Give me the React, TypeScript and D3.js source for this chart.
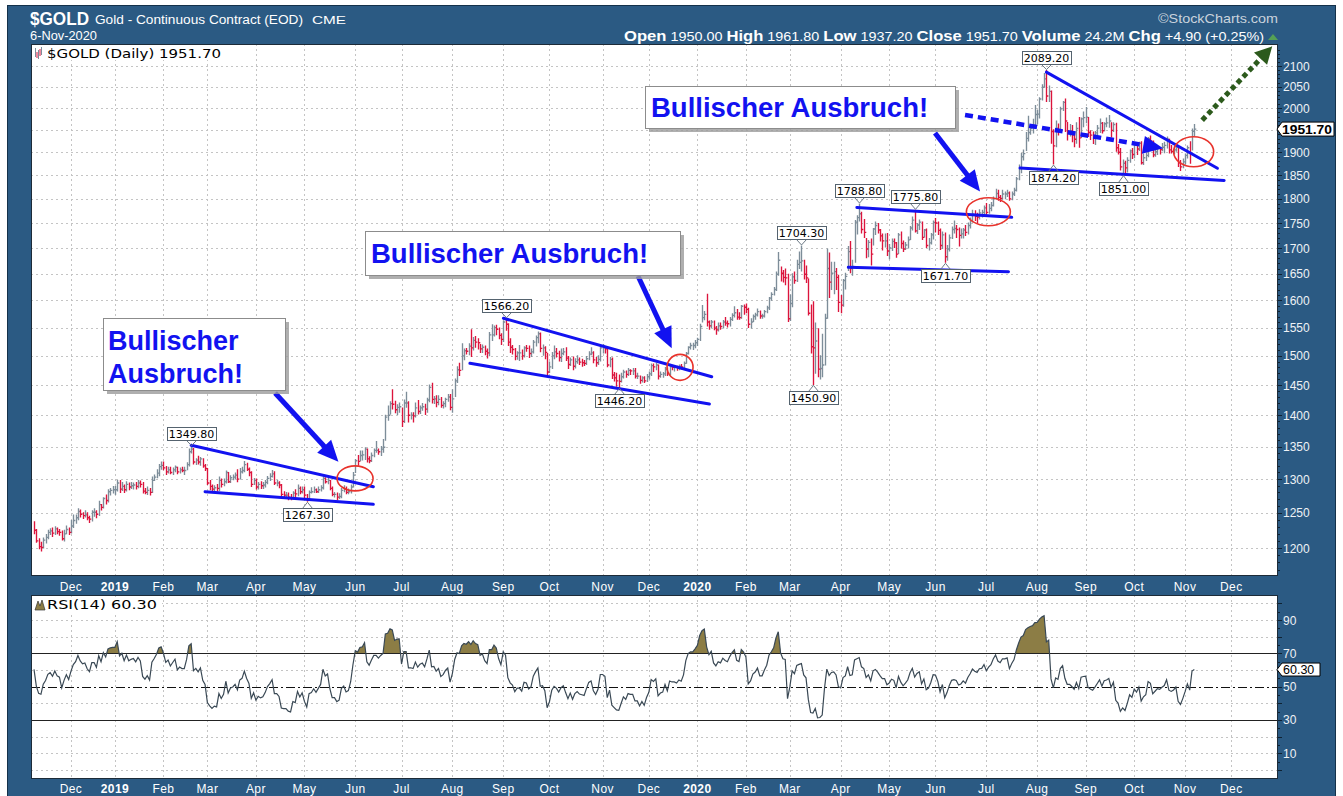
import React, { useEffect } from 'react';
import * as d3 from 'd3';

// ---------------- DATA ----------------
const holidays = [
  '2018-11-22', '2018-12-05', '2018-12-25', '2019-01-01', '2019-01-21', '2019-02-18', '2019-04-19',
  '2019-05-27', '2019-07-04', '2019-09-02', '2019-11-28', '2019-12-25', '2020-01-01', '2020-01-20',
  '2020-02-17', '2020-04-10', '2020-05-25', '2020-07-03', '2020-09-07', '2020-11-26', '2020-12-25',
];
const firstDay = '2018-11-08';
const lastAxisDay = '2020-12-31';
const monthNames = ['Jan', 'Feb', 'Mar', 'Apr', 'May', 'Jun', 'Jul', 'Aug', 'Sep', 'Oct', 'Nov', 'Dec'];

// closes before the first visible bar (RSI warm-up only)
const warmupCloses = [1194, 1227, 1222, 1232, 1230, 1225, 1227, 1229, 1226, 1236, 1234, 1234, 1236, 1228, 1226, 1215, 1235, 1234, 1233, 1230, 1228];

const closes = [
  // Nov 2018
  1225, 1210, 1202, 1201, 1211, 1215, 1222, 1224, 1221, 1227, 1223, 1222, 1213, 1220, 1226, 1222,
  // Dec 2018
  1231, 1239, 1243, 1252, 1248, 1246, 1247, 1243, 1241, 1251, 1251, 1248, 1262, 1258, 1271, 1268, 1281, 1283, 1284,
  // Jan 2019
  1284, 1294, 1285, 1289, 1284, 1292, 1288, 1290, 1291, 1289, 1294, 1292, 1282, 1280, 1283, 1280, 1298, 1303, 1309, 1319, 1321,
  // Feb 2019
  1317, 1311, 1314, 1310, 1314, 1318, 1311, 1314, 1313, 1313, 1322, 1342, 1346, 1326, 1329, 1326, 1331, 1320, 1316,
  // Mar 2019
  1294, 1289, 1285, 1287, 1286, 1298, 1292, 1296, 1310, 1296, 1302, 1303, 1306, 1300, 1311, 1313, 1322, 1315, 1310, 1292, 1298,
  // Apr 2019
  1288, 1292, 1290, 1291, 1295, 1301, 1304, 1308, 1294, 1294, 1291, 1277, 1276, 1276, 1273, 1272, 1279, 1278, 1286, 1281, 1284,
  // May 2019
  1276, 1270, 1280, 1281, 1284, 1281, 1284, 1287, 1301, 1296, 1298, 1286, 1277, 1277, 1273, 1274, 1283, 1285, 1280, 1281, 1288, 1306,
  // Jun 2019
  1328, 1327, 1336, 1337, 1346, 1331, 1328, 1336, 1344, 1344, 1342, 1346, 1349, 1397, 1400, 1419, 1418, 1409, 1413, 1414,
  // Jul 2019
  1390, 1420, 1420, 1400, 1400, 1399, 1412, 1406, 1412, 1414, 1410, 1425, 1446, 1426, 1427, 1421, 1426, 1416, 1419, 1426, 1430, 1413,
  // Aug 2019
  1427, 1457, 1476, 1475, 1500, 1509, 1508, 1517, 1514, 1527, 1524, 1523, 1512, 1515, 1508, 1505, 1537, 1537, 1550, 1547, 1536, 1529,
  // Sep 2019
  1560, 1556, 1524, 1515, 1511, 1499, 1505, 1505, 1500, 1514, 1513, 1504, 1507, 1524, 1532, 1539, 1513, 1514, 1506, 1472,
  // Oct 2019
  1481, 1500, 1507, 1504, 1497, 1504, 1507, 1496, 1485, 1493, 1482, 1490, 1493, 1489, 1488, 1487, 1495, 1503, 1505, 1493, 1488, 1494, 1514,
  // Nov 2019
  1514, 1512, 1484, 1494, 1467, 1462, 1457, 1456, 1464, 1472, 1468, 1475, 1474, 1474, 1465, 1465, 1458, 1462, 1457, 1464,
  // Dec 2019
  1469, 1483, 1481, 1484, 1465, 1468, 1469, 1477, 1470, 1481, 1480, 1480, 1479, 1482, 1481, 1487, 1504, 1515, 1518, 1518, 1523,
  // Jan 2020
  1529, 1552, 1568, 1574, 1560, 1553, 1560, 1549, 1546, 1553, 1552, 1560, 1558, 1557, 1565, 1572, 1577, 1569, 1568, 1589, 1587,
  // Feb 2020
  1583, 1556, 1560, 1570, 1573, 1579, 1571, 1571, 1579, 1586, 1604, 1611, 1620, 1649, 1676, 1651, 1643, 1642, 1566,
  // Mar 2020
  1594, 1644, 1637, 1668, 1672, 1675, 1649, 1642, 1576, 1516, 1514, 1526, 1477, 1478, 1484, 1567, 1660, 1634, 1651, 1654, 1643, 1596,
  // Apr 2020
  1591, 1637, 1645, 1693, 1660, 1664, 1752, 1761, 1769, 1737, 1731, 1698, 1711, 1688, 1738, 1745, 1736, 1724, 1714, 1714, 1694,
  // May 2020
  1700, 1713, 1710, 1688, 1726, 1709, 1698, 1706, 1716, 1740, 1756, 1734, 1746, 1752, 1721, 1736, 1705, 1710, 1726, 1751,
  // Jun 2020
  1750, 1735, 1705, 1726, 1683, 1698, 1720, 1737, 1739, 1737, 1725, 1728, 1736, 1731, 1745, 1755, 1768, 1764, 1762, 1771, 1772, 1781,
  // Jul 2020
  1772, 1780, 1786, 1800, 1811, 1803, 1801, 1810, 1810, 1812, 1800, 1810, 1818, 1842, 1865, 1890, 1897, 1931, 1944, 1953, 1960, 1985,
  // Aug 2020
  1986, 2021, 2049, 2069, 2028, 2039, 1946, 1914, 1954, 1949, 1998, 2013, 1970, 1947, 1947, 1939, 1929, 1953, 1932, 1975, 1978,
  // Sep 2020
  1979, 1944, 1938, 1934, 1943, 1954, 1965, 1948, 1964, 1966, 1970, 1949, 1962, 1910, 1900, 1868, 1876, 1866, 1882, 1903, 1895,
  // Oct 2020
  1916, 1907, 1920, 1877, 1888, 1893, 1930, 1925, 1894, 1901, 1908, 1906, 1911, 1915, 1929, 1905, 1902, 1905, 1911, 1877, 1868, 1879,
  // Nov 2020
  1893, 1910, 1896, 1947, 1951.7,
];

const highs = [
  1237, 1226, 1213, 1208, 1214, 1219, 1225, 1227, 1228, 1230, 1228, 1226, 1224, 1225, 1231, 1228,
  1239, 1247, 1247, 1256, 1254, 1250, 1253, 1250, 1245, 1253, 1256, 1253, 1267, 1262, 1272, 1276, 1284, 1286, 1289,
  1289, 1298, 1298, 1295, 1291, 1296, 1294, 1295, 1294, 1295, 1298, 1297, 1295, 1286, 1288, 1286, 1303, 1306, 1314, 1322, 1326,
  1326, 1319, 1318, 1318, 1317, 1320, 1318, 1317, 1318, 1318, 1325, 1346, 1350, 1347, 1331, 1335, 1333, 1331, 1322,
  1316, 1298, 1291, 1290, 1292, 1303, 1300, 1300, 1312, 1310, 1305, 1306, 1309, 1314, 1316, 1318, 1327, 1324, 1317, 1311, 1301,
  1300, 1295, 1296, 1295, 1298, 1304, 1308, 1313, 1311, 1298, 1296, 1292, 1281, 1280, 1279, 1277, 1281, 1284, 1291, 1288, 1288,
  1288, 1277, 1282, 1287, 1288, 1285, 1288, 1290, 1303, 1302, 1301, 1298, 1288, 1280, 1279, 1278, 1286, 1290, 1288, 1285, 1291, 1310,
  1330, 1336, 1343, 1343, 1348, 1346, 1334, 1340, 1346, 1358, 1346, 1350, 1361, 1400, 1415, 1422, 1442, 1423, 1417, 1420,
  1412, 1425, 1438, 1422, 1404, 1404, 1420, 1424, 1415, 1419, 1418, 1428, 1450, 1453, 1431, 1432, 1432, 1429, 1422, 1428, 1434, 1434,
  1442, 1460, 1481, 1487, 1521, 1512, 1513, 1521, 1546, 1532, 1534, 1530, 1520, 1519, 1517, 1512, 1541, 1555, 1553, 1554, 1549, 1539,
  1562, 1566, 1557, 1530, 1518, 1513, 1507, 1518, 1510, 1516, 1518, 1517, 1512, 1527, 1535, 1542, 1540, 1519, 1516, 1504,
  1489, 1506, 1517, 1513, 1508, 1512, 1513, 1514, 1499, 1496, 1498, 1495, 1500, 1496, 1494, 1492, 1499, 1507, 1514, 1507, 1497, 1500, 1516,
  1520, 1516, 1513, 1497, 1496, 1471, 1470, 1467, 1470, 1475, 1474, 1478, 1476, 1478, 1478, 1470, 1465, 1464, 1464, 1468,
  1472, 1486, 1486, 1487, 1484, 1472, 1471, 1480, 1479, 1484, 1482, 1483, 1482, 1484, 1485, 1489, 1506, 1516, 1522, 1522, 1527,
  1531, 1556, 1590, 1579, 1611, 1562, 1563, 1562, 1552, 1558, 1558, 1563, 1568, 1562, 1568, 1575, 1588, 1583, 1577, 1590, 1591,
  1593, 1585, 1566, 1573, 1576, 1584, 1580, 1574, 1581, 1589, 1605, 1614, 1624, 1653, 1691, 1663, 1656, 1659, 1649,
  1610, 1650, 1653, 1676, 1692, 1704, 1676, 1665, 1640, 1591, 1597, 1558, 1548, 1500, 1538, 1574, 1698, 1690, 1672, 1672, 1660, 1647,
  1609, 1639, 1651, 1703, 1713, 1676, 1755, 1765, 1789, 1772, 1757, 1719, 1715, 1718, 1739, 1752, 1749, 1737, 1728, 1728, 1729,
  1707, 1718, 1718, 1711, 1729, 1732, 1714, 1711, 1722, 1743, 1762, 1776, 1749, 1756, 1752, 1737, 1738, 1719, 1729, 1754,
  1759, 1752, 1738, 1732, 1730, 1705, 1726, 1742, 1754, 1745, 1740, 1738, 1739, 1745, 1750, 1760, 1776, 1775, 1770, 1777, 1776, 1785,
  1790, 1788, 1792, 1804, 1820, 1818, 1807, 1818, 1814, 1818, 1814, 1814, 1822, 1845, 1872, 1897, 1905, 1944, 1981, 1960, 1974, 2006,
  1994, 2024, 2055, 2082, 2089, 2052, 2040, 1950, 1970, 1963, 2002, 2015, 2021, 1967, 1962, 1960, 1944, 1966, 1978, 1977, 1991,
  2001, 1978, 1948, 1945, 1946, 1960, 1975, 1967, 1966, 1977, 1983, 1966, 1966, 1965, 1917, 1908, 1883, 1880, 1888, 1905, 1908,
  1918, 1921, 1922, 1923, 1896, 1898, 1933, 1936, 1925, 1909, 1912, 1910, 1919, 1922, 1934, 1929, 1915, 1913, 1915, 1910, 1882, 1885,
  1896, 1914, 1923, 1952, 1961.8,
];

const lows = [
  1220, 1208, 1199, 1196, 1200, 1207, 1213, 1219, 1216, 1219, 1220, 1218, 1211, 1210, 1220, 1219,
  1221, 1229, 1235, 1240, 1244, 1242, 1244, 1240, 1236, 1238, 1245, 1243, 1246, 1254, 1257, 1263, 1266, 1276, 1279,
  1277, 1282, 1280, 1283, 1280, 1282, 1284, 1286, 1285, 1285, 1287, 1288, 1279, 1278, 1277, 1276, 1280, 1298, 1302, 1305, 1315,
  1314, 1307, 1309, 1308, 1307, 1311, 1308, 1309, 1311, 1307, 1314, 1320, 1340, 1323, 1322, 1323, 1321, 1318, 1313,
  1292, 1284, 1281, 1283, 1282, 1283, 1288, 1290, 1294, 1295, 1295, 1299, 1300, 1296, 1300, 1309, 1311, 1313, 1305, 1289, 1292,
  1285, 1285, 1286, 1286, 1288, 1293, 1298, 1303, 1292, 1290, 1287, 1275, 1272, 1271, 1269, 1269, 1270, 1273, 1275, 1278, 1279,
  1271, 1267, 1268, 1279, 1280, 1280, 1280, 1282, 1285, 1294, 1293, 1284, 1275, 1273, 1269, 1271, 1272, 1281, 1278, 1278, 1279, 1288,
  1310, 1321, 1328, 1329, 1330, 1326, 1325, 1327, 1334, 1341, 1338, 1336, 1341, 1360, 1392, 1402, 1410, 1404, 1401, 1405,
  1382, 1388, 1413, 1389, 1394, 1389, 1397, 1402, 1403, 1408, 1401, 1405, 1422, 1420, 1419, 1414, 1417, 1413, 1412, 1414, 1423, 1409,
  1405, 1431, 1454, 1466, 1476, 1493, 1503, 1502, 1499, 1510, 1515, 1512, 1506, 1506, 1502, 1496, 1500, 1527, 1535, 1537, 1530, 1520,
  1525, 1545, 1518, 1506, 1503, 1493, 1494, 1492, 1494, 1498, 1508, 1497, 1499, 1505, 1517, 1523, 1507, 1501, 1495, 1468,
  1471, 1478, 1495, 1498, 1491, 1490, 1502, 1492, 1478, 1483, 1476, 1479, 1487, 1485, 1482, 1483, 1485, 1493, 1502, 1488, 1482, 1485, 1491,
  1505, 1505, 1481, 1481, 1461, 1457, 1448, 1446, 1455, 1462, 1463, 1466, 1468, 1468, 1462, 1461, 1453, 1455, 1454, 1456,
  1460, 1466, 1473, 1476, 1460, 1463, 1463, 1466, 1466, 1467, 1476, 1474, 1475, 1476, 1477, 1479, 1487, 1503, 1512, 1511, 1514,
  1518, 1527, 1560, 1564, 1553, 1547, 1550, 1546, 1538, 1544, 1547, 1549, 1554, 1551, 1553, 1563, 1569, 1565, 1565, 1567, 1574,
  1577, 1550, 1549, 1561, 1565, 1571, 1567, 1567, 1569, 1577, 1583, 1600, 1610, 1618, 1647, 1636, 1634, 1629, 1561,
  1563, 1588, 1632, 1635, 1660, 1655, 1640, 1633, 1573, 1505, 1451, 1470, 1464, 1460, 1464, 1484, 1567, 1605, 1620, 1612, 1620, 1579,
  1577, 1589, 1621, 1656, 1652, 1647, 1672, 1728, 1754, 1730, 1721, 1681, 1683, 1667, 1706, 1727, 1730, 1714, 1696, 1702, 1685,
  1679, 1695, 1701, 1682, 1689, 1700, 1693, 1697, 1700, 1717, 1736, 1732, 1729, 1737, 1717, 1722, 1701, 1696, 1708, 1718,
  1732, 1727, 1697, 1699, 1672, 1676, 1694, 1719, 1730, 1721, 1704, 1720, 1720, 1725, 1728, 1740, 1752, 1755, 1750, 1758, 1762, 1768,
  1765, 1770, 1775, 1785, 1800, 1797, 1794, 1799, 1800, 1805, 1797, 1798, 1807, 1816, 1840, 1855, 1883, 1904, 1925, 1940, 1943, 1961,
  1964, 1977, 2019, 2049, 2015, 2015, 1920, 1874, 1912, 1938, 1950, 1994, 1946, 1927, 1936, 1923, 1912, 1920, 1911, 1933, 1957,
  1966, 1935, 1928, 1919, 1917, 1933, 1944, 1943, 1948, 1957, 1956, 1934, 1946, 1902, 1896, 1861, 1851, 1856, 1857, 1878, 1886,
  1888, 1895, 1904, 1874, 1873, 1882, 1890, 1919, 1890, 1891, 1895, 1896, 1903, 1899, 1909, 1898, 1898, 1896, 1902, 1869, 1860, 1866,
  1874, 1887, 1876, 1905, 1937.2,
];

const priceTicks = [1200, 1250, 1300, 1350, 1400, 1450, 1500, 1550, 1600, 1650, 1700, 1750, 1800, 1850, 1900, 2000, 2050, 2100];
const priceGrid = [1200, 1250, 1300, 1350, 1400, 1450, 1500, 1550, 1600, 1650, 1700, 1750, 1800, 1850, 1900, 1950, 2000, 2050, 2100];
const rsiTicks = [10, 30, 50, 70, 90];
const rsiGrid = [0, 10, 20, 40, 60, 80, 90, 100];

const headerStats = [
  ['Open', '1950.00'], ['High', '1961.80'], ['Low', '1937.20'], ['Close', '1951.70'],
  ['Volume', '24.2M'], ['Chg', '+4.90 (+0.25%)'],
];
const lastPriceText = '1951.70';
const lastRsiText = '60.30';

// value labels: [bar index, 'above' | 'below', text]
const valueLabels = [
  [68, 'above', '1349.80'], [118, 'below', '1267.30'], [204, 'above', '1566.20'], [253, 'below', '1446.20'],
  [332, 'above', '1704.30'], [337, 'below', '1450.90'], [357, 'above', '1788.80'], [381, 'above', '1775.80'],
  [394, 'below', '1671.70'], [438, 'above', '2089.20'], [441, 'below', '1874.20'], [471, 'below', '1851.00'],
];

// drawn trend lines in (bar index, price)
const trendLines = [
  [[68, 1352], [146.8, 1288.5]], [[74, 1281], [146.8, 1262.5]],
  [[203.1, 1566.8], [293.2, 1464]], [[188.6, 1487], [292.2, 1418.4]],
  [[356, 1782], [423, 1761.7]], [[352.3, 1662.4], [421.6, 1654]],
  [[438, 2085], [512, 1865]], [[426.6, 1865.5], [514.9, 1838.6]],
];
// circles: [index, price, rx, ry]
const circles = [[138.9, 1301, 18, 12.5], [279.5, 1480, 13, 13], [412.9, 1773, 22, 14], [501.7, 1901, 20, 15]];
const bigArrows = [
  [[104.3, 1436.6], [131.7, 1326.5]],
  [[261.3, 1645.7], [275.9, 1513]],
  [[389.8, 1942.8], [409.3, 1815]],
];
const dashedArrow = [[402.8, 1984], [488.5, 1908.6]];
const greenArrow = [[505.4, 1972], [535.7, 2148.5]];
const calloutText = 'Bullischer Ausbruch!';

// ---------------- HELPERS ----------------
function tradingDays(from: string, to: string) {
  const out: Date[] = [];
  const hol = new Set(holidays);
  const d = new Date(from + 'T00:00:00Z');
  const end = new Date(to + 'T00:00:00Z');
  while (d <= end) {
    const wd = d.getUTCDay();
    const iso = d.toISOString().slice(0, 10);
    if (wd !== 0 && wd !== 6 && !hol.has(iso)) out.push(new Date(d.getTime()));
    d.setUTCDate(d.getUTCDate() + 1);
  }
  return out;
}

function wilderRsi(series: number[], n = 14) {
  const out = new Array(series.length).fill(NaN);
  let g = 0, l = 0;
  for (let i = 1; i <= n; i++) {
    const dd = series[i] - series[i - 1];
    if (dd > 0) g += dd; else l -= dd;
  }
  g /= n; l /= n;
  out[n] = l === 0 ? 100 : 100 - 100 / (1 + g / l);
  for (let i = n + 1; i < series.length; i++) {
    const dd = series[i] - series[i - 1];
    g = (g * (n - 1) + Math.max(dd, 0)) / n;
    l = (l * (n - 1) + Math.max(-dd, 0)) / n;
    out[i] = l === 0 ? 100 : 100 - 100 / (1 + g / l);
  }
  return out;
}

function arrowGeom(x1: number, y1: number, x2: number, y2: number, headLen: number, headW: number) {
  const dx = x2 - x1, dy = y2 - y1;
  const len = Math.sqrt(dx * dx + dy * dy);
  const ux = dx / len, uy = dy / len;
  const bx = x2 - ux * headLen, by = y2 - uy * headLen;
  const px = -uy, py = ux;
  const head = `M${x2},${y2}L${bx + px * headW / 2},${by + py * headW / 2}L${bx - px * headW / 2},${by - py * headW / 2}Z`;
  return { bx: bx + ux * 2, by: by + uy * 2, head };
}

// ---------------- LAYOUT ----------------
const L = 31, R = 1278;
const mainTop = 44, mainBottom = 576;
const rsiTop = 595, rsiBottom = 779;
const frameBlue = '#2b5a83';
const upColor = '#7d8d99';
const downColor = '#dc143c';
const blue = '#1212f0';
const axisFont = "'Liberation Sans', Arial, sans-serif";
const labelFont = "'DejaVu Sans', Verdana, sans-serif";

export default function App() {
  useEffect(() => {
    document.body.style.margin = '0';
  }, []);

  const n = Math.min(closes.length, highs.length, lows.length);
  const days = tradingDays(firstDay, lastAxisDay);

  const x = d3.scaleLinear().domain([-1.3, 538.2]).range([L, R]);
  const y = d3.scaleLog().domain([1200, 2100]).range([548, 66]);
  const ry = d3.scaleLinear().domain([10, 90]).range([753.3, 620]);

  // month ticks
  const ticks: { i: number; label: string; bold: boolean }[] = [];
  for (let i = 1; i < days.length; i++) {
    if (days[i].getUTCMonth() !== days[i - 1].getUTCMonth()) {
      const m = days[i].getUTCMonth();
      ticks.push({ i, label: m === 0 ? String(days[i].getUTCFullYear()) : monthNames[m], bold: m === 0 });
    }
  }

  // bars
  const up: string[] = [], down: string[] = [];
  for (let i = 0; i < n; i++) {
    const xi = Math.round(x(i)) + 0.5;
    const prev = i === 0 ? warmupCloses[warmupCloses.length - 1] : closes[i - 1];
    const seg = `M${xi},${(y(highs[i]) - 0.5).toFixed(1)}V${(y(lows[i]) + 0.5).toFixed(1)}M${xi},${y(closes[i]).toFixed(1)}H${xi + 1.8}`;
    (closes[i] < prev ? down : up).push(seg);
  }

  // RSI
  const allCloses = warmupCloses.concat(closes.slice(0, n));
  const rsiAll = wilderRsi(allCloses, 14);
  const rsi = rsiAll.slice(warmupCloses.length);
  const idx = d3.range(n);
  const rsiLine = d3.line<number>().x((i) => x(i)).y((i) => ry(rsi[i]))(idx) || '';
  const rsiArea = d3.area<number>().x((i) => x(i)).y0(ry(70)).y1((i) => ry(rsi[i]))(idx) || '';
  const rsiAreaLow = d3.area<number>().x((i) => x(i)).y0(ry(30)).y1((i) => ry(rsi[i]))(idx) || '';

  const P = (pt: number[]) => [x(pt[0]), y(pt[1])];

  const gridStroke = '#c4c4c4';

  const monthLabels = (baseline: number) =>
    ticks.map((t) => (
      <text key={'ml' + baseline + t.i} x={x(t.i)} y={baseline} textAnchor="middle" fill="#ffffff"
        fontFamily={axisFont} fontSize={12} fontWeight={t.bold ? 'bold' : 'normal'} letterSpacing={0.4}>
        {t.label}
      </text>
    ));

  const lastY = y(closes[n - 1]);
  const lastRsiY = ry(rsi[n - 1]);

  const minorTicks = d3.range(1170, 2150, 10).filter((p) => y(p) > mainTop && y(p) < mainBottom);

  return (
    <svg width={1343} height={796} style={{ display: 'block' }} xmlns="http://www.w3.org/2000/svg">
      <defs>
        <clipPath id="mainClip"><rect x={L} y={mainTop} width={R - L} height={mainBottom - mainTop} /></clipPath>
        <clipPath id="rsiClip"><rect x={L} y={rsiTop} width={R - L} height={rsiBottom - rsiTop} /></clipPath>
        <clipPath id="above70"><rect x={L} y={rsiTop} width={R - L} height={ry(70) - rsiTop} /></clipPath>
        <clipPath id="below30"><rect x={L} y={ry(30)} width={R - L} height={rsiBottom - ry(30)} /></clipPath>
      </defs>
      <rect x={0} y={0} width={1343} height={796} fill="#ffffff" />
      {/* frame */}
      <rect x={7.5} y={5.5} width={1328} height={800} fill={frameBlue} stroke="#14314a" strokeWidth={1} />

      {/* header */}
      <text x={30} y={25} fill="#fff" fontFamily={axisFont} fontSize={19} fontWeight="bold" textLength={59} lengthAdjust="spacingAndGlyphs">$GOLD</text>
      <text x={95} y={24} fill="#fff" fontFamily={axisFont} fontSize={12.5} textLength={208} lengthAdjust="spacingAndGlyphs">Gold - Continuous Contract (EOD)</text>
      <text x={312} y={24} fill="#fff" fontFamily={axisFont} fontSize={11.5} textLength={34} lengthAdjust="spacingAndGlyphs">CME</text>
      <text x={30} y={40} fill="#fff" fontFamily={axisFont} fontSize={12.5} textLength={67} lengthAdjust="spacingAndGlyphs">6-Nov-2020</text>
      <text x={1278} y={23} fill="#c9d3dd" fontFamily={axisFont} fontSize={13} textAnchor="end" textLength={120} lengthAdjust="spacingAndGlyphs">©StockCharts.com</text>
      <text x={624} y={41} fill="#fff" fontFamily={axisFont} fontSize={13} textLength={640} lengthAdjust="spacingAndGlyphs">
        {headerStats.map(([k, v], j) => (
          <tspan key={k}>
            <tspan fontWeight="bold" fontSize={15}>{k}</tspan>
            <tspan>{' ' + v + (j < headerStats.length - 1 ? ' ' : '')}</tspan>
          </tspan>
        ))}
      </text>
      <path d="M1268,40 L1273,34 L1278,40 Z" fill="#55a055" />

      {/* main panel */}
      <rect x={L} y={mainTop} width={R - L} height={mainBottom - mainTop} fill="#ffffff" />
      <g clipPath="url(#mainClip)" stroke={gridStroke} strokeWidth={1} strokeDasharray="2,3">
        {priceGrid.map((p) => (
          <line key={'pg' + p} x1={L} x2={R} y1={Math.round(y(p)) + 0.5} y2={Math.round(y(p)) + 0.5} />
        ))}
        {ticks.map((t) => (
          <line key={'vg' + t.i} x1={Math.round(x(t.i)) + 0.5} x2={Math.round(x(t.i)) + 0.5} y1={mainTop} y2={mainBottom} />
        ))}
      </g>
      <g clipPath="url(#mainClip)" fill="none" strokeWidth={1.35}>
        <path d={up.join('')} stroke={upColor} />
        <path d={down.join('')} stroke={downColor} />
      </g>

      {/* trend lines */}
      <g stroke={blue} strokeWidth={3} strokeLinecap="round">
        {trendLines.map((ln, k) => {
          const [a, b] = [P(ln[0]), P(ln[1])];
          return <line key={'tl' + k} x1={a[0]} y1={a[1]} x2={b[0]} y2={b[1]} />;
        })}
      </g>
      {/* circles */}
      <g fill="none" stroke="#e8322b" strokeWidth={1.6}>
        {circles.map((c, k) => {
          const [cx, cy] = P(c);
          return <ellipse key={'ci' + k} cx={cx} cy={cy} rx={c[2]} ry={c[3]} />;
        })}
      </g>
      {/* big arrows */}
      {bigArrows.map((ar, k) => {
        const [a, b] = [P(ar[0]), P(ar[1])];
        const g = arrowGeom(a[0], a[1], b[0], b[1], 21, 19);
        return (
          <g key={'ba' + k}>
            <line x1={a[0]} y1={a[1]} x2={g.bx} y2={g.by} stroke={blue} strokeWidth={5} />
            <path d={g.head} fill={blue} />
          </g>
        );
      })}
      {/* dashed arrow */}
      {(() => {
        const [a, b] = [P(dashedArrow[0]), P(dashedArrow[1])];
        const g = arrowGeom(a[0], a[1], b[0], b[1], 20, 18);
        return (
          <g>
            <line x1={a[0]} y1={a[1]} x2={g.bx} y2={g.by} stroke={blue} strokeWidth={4.5} strokeDasharray="8,5" />
            <path d={g.head} fill={blue} />
          </g>
        );
      })()}
      {/* green dotted arrow */}
      {(() => {
        const [a, b] = [P(greenArrow[0]), P(greenArrow[1])];
        const g = arrowGeom(a[0], a[1], b[0], b[1], 17, 18);
        return (
          <g>
            <line x1={a[0]} y1={a[1]} x2={g.bx} y2={g.by} stroke="#2c5a1c" strokeWidth={5} strokeDasharray="5,3.5" />
            <path d={g.head} fill="#2c5a1c" />
          </g>
        );
      })()}

      {/* callouts */}
      <g>
        <rect x={107} y={322} width={182} height={72} fill="#9b9b9b" opacity={0.8} />
        <rect x={103.5} y={318.5} width={182} height={72} fill="#fff" stroke="#8c8c8c" />
        <text x={108} y={350} fill={blue} fontFamily={axisFont} fontWeight="bold" fontSize={27}>Bullischer</text>
        <text x={108} y={383} fill={blue} fontFamily={axisFont} fontWeight="bold" fontSize={27}>Ausbruch!</text>

        <rect x={369} y={235} width={315} height={44} fill="#9b9b9b" opacity={0.8} />
        <rect x={365.5} y={231.5} width={315} height={44} fill="#fff" stroke="#8c8c8c" />
        <text x={371} y={263} fill={blue} fontFamily={axisFont} fontWeight="bold" fontSize={27.5}>{calloutText}</text>

        <rect x={649} y={90} width={310} height={42} fill="#9b9b9b" opacity={0.8} />
        <rect x={645.5} y={86.5} width={310} height={42} fill="#fff" stroke="#8c8c8c" />
        <text x={651} y={117} fill={blue} fontFamily={axisFont} fontWeight="bold" fontSize={27.5}>{calloutText}</text>
      </g>

      {/* value labels */}
      {valueLabels.map(([i, pos, txt]) => {
        const ii = i as number;
        const bx = Math.round(x(ii)) + 0.5;
        const w = 49, h = 13;
        if (pos === 'above') {
          const py = y(highs[ii]);
          const bb = Math.round(py - 7) + 0.5;
          return (
            <g key={'vl' + ii}>
              <path d={`M${bx - 5},${bb}L${bx},${py - 1}L${bx + 5},${bb}`} fill="none" stroke="#6d7a86" strokeWidth={1} />
              <rect x={Math.round(bx - w / 2) + 0.5} y={bb - h} width={w} height={h} fill="#fff" stroke="#55636f" />
              <text x={bx} y={bb - 2.5} textAnchor="middle" fontFamily={labelFont} fontSize={11} fill="#000">{txt}</text>
            </g>
          );
        }
        const py = y(lows[ii]);
        const bt = Math.round(py + 7) + 0.5;
        return (
          <g key={'vl' + ii}>
            <path d={`M${bx - 5},${bt}L${bx},${py + 1}L${bx + 5},${bt}`} fill="none" stroke="#6d7a86" strokeWidth={1} />
            <rect x={Math.round(bx - w / 2) + 0.5} y={bt} width={w} height={h} fill="#fff" stroke="#55636f" />
            <text x={bx} y={bt + h - 2.5} textAnchor="middle" fontFamily={labelFont} fontSize={11} fill="#000">{txt}</text>
          </g>
        );
      })}

      {/* legend */}
      <rect x={32} y={45} width={194} height={15} fill="#fff" />
      <path d="M35.5,48V57M38.5,50V59M41.5,47V55" stroke={upColor} strokeWidth={1} />
      <path d="M37,52V58M40,49V56" stroke={downColor} strokeWidth={1} />
      <text x={47} y={57.5} fontFamily={labelFont} fontSize={13} fill="#000" textLength={174} lengthAdjust="spacingAndGlyphs">$GOLD (Daily) {lastPriceText}</text>

      <rect x={L + 0.5} y={mainTop + 0.5} width={R - L - 1} height={mainBottom - mainTop - 1} fill="none" stroke="#1d2b38" />

      {/* right axis */}
      {minorTicks.map((p) => (
        <line key={'mt' + p} x1={R} x2={R + (p % 50 === 0 ? 4 : 2)} y1={Math.round(y(p)) + 0.5} y2={Math.round(y(p)) + 0.5} stroke="#0e2233" />
      ))}
      {priceTicks.map((p) => (
        <text key={'pt' + p} x={1283} y={y(p) + 4.5} fill="#eef2f6" fontFamily={axisFont} fontSize={12}>{p}</text>
      ))}
      <path d={`M${R - 1},${lastY} L${R + 4},${lastY - 7} H1334 V${lastY + 7} H${R + 4} Z`} fill="#fff" stroke="#000" strokeWidth={1} />
      <text x={1282} y={lastY + 4.5} fontFamily={axisFont} fontWeight="bold" fontSize={13} fill="#000" textLength={50} lengthAdjust="spacingAndGlyphs">{lastPriceText}</text>

      {monthLabels(590.5)}

      {/* RSI panel */}
      <rect x={L} y={rsiTop} width={R - L} height={rsiBottom - rsiTop} fill="#ffffff" />
      <g clipPath="url(#rsiClip)" stroke={gridStroke} strokeWidth={1} strokeDasharray="2,3">
        {rsiGrid.map((v) => (
          <line key={'rg' + v} x1={L} x2={R} y1={Math.round(ry(v)) + 0.5} y2={Math.round(ry(v)) + 0.5} />
        ))}
        {ticks.map((t) => (
          <line key={'rvg' + t.i} x1={Math.round(x(t.i)) + 0.5} x2={Math.round(x(t.i)) + 0.5} y1={rsiTop} y2={rsiBottom} />
        ))}
      </g>
      <path d={rsiArea} fill="#8c7d45" clipPath="url(#above70)" />
      <path d={rsiAreaLow} fill="#8c7d45" clipPath="url(#below30)" />
      <line x1={L} x2={R} y1={Math.round(ry(70)) + 0.5} y2={Math.round(ry(70)) + 0.5} stroke="#222" strokeWidth={1} />
      <line x1={L} x2={R} y1={Math.round(ry(30)) + 0.5} y2={Math.round(ry(30)) + 0.5} stroke="#222" strokeWidth={1} />
      <line x1={L} x2={R} y1={Math.round(ry(50)) + 0.5} y2={Math.round(ry(50)) + 0.5} stroke="#111" strokeWidth={1} strokeDasharray="9,3,2,3" />
      <path d={rsiLine} fill="none" stroke="#3a4955" strokeWidth={1.2} clipPath="url(#rsiClip)" />

      <rect x={32} y={597} width={130} height={15} fill="#fff" />
      <path d="M35,610 L38,601 L40,606 L42,600 L45,610 Z" fill="#8c7d45" stroke="#333" strokeWidth={0.7} />
      <text x={47} y={609} fontFamily={labelFont} fontSize={13} fill="#000" textLength={110} lengthAdjust="spacingAndGlyphs">RSI(14) {lastRsiText}</text>

      <rect x={L + 0.5} y={rsiTop + 0.5} width={R - L - 1} height={rsiBottom - rsiTop - 1} fill="none" stroke="#1d2b38" />
      {d3.range(0, 101, 5).map((v) => (
        <line key={'rt' + v} x1={R} x2={R + (v % 10 === 0 ? 4 : 2)} y1={Math.round(ry(v)) + 0.5} y2={Math.round(ry(v)) + 0.5} stroke="#0e2233" />
      ))}
      {rsiTicks.map((v) => (
        <text key={'rtl' + v} x={1283} y={ry(v) + 4.5} fill="#eef2f6" fontFamily={axisFont} fontSize={12}>{v}</text>
      ))}
      <path d={`M${R - 1},${lastRsiY} L${R + 4},${lastRsiY - 6.5} H1320 V${lastRsiY + 6.5} H${R + 4} Z`} fill="#fff" stroke="#000" strokeWidth={1} />
      <text x={1283} y={lastRsiY + 4.5} fontFamily={axisFont} fontSize={12.5} fill="#000">{lastRsiText}</text>

      {monthLabels(793)}
    </svg>
  );
}
